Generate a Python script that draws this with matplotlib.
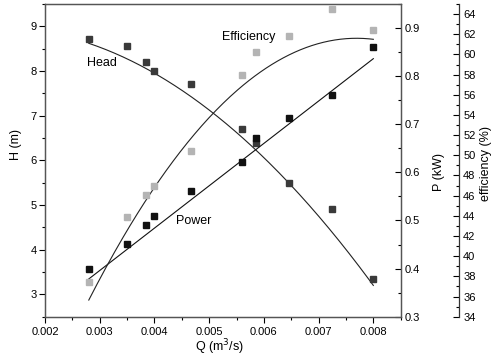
import numpy as np
import matplotlib
matplotlib.use("Agg")
import matplotlib.pyplot as plt
from matplotlib.ticker import MultipleLocator

plt.rcParams['font.family'] = ['Liberation Sans', 'DejaVu Sans']
plt.rcParams['font.size'] = 8

# flow rate (m3/s)
q = [0.0028, 0.0035, 0.00385, 0.0040, 0.00467, 0.0056, 0.00585, 0.00645, 0.00725, 0.0080]
# head (m)
head = [8.71, 8.55, 8.21, 8.01, 7.71, 6.71, 6.38, 5.50, 4.90, 3.34]
# power (kW)
power = [0.400, 0.451, 0.491, 0.510, 0.561, 0.621, 0.671, 0.712, 0.761, 0.861]
# efficiency (%)
eff = [37.4, 43.9, 46.1, 47.0, 50.4, 58.0, 60.2, 61.8, 64.5, 62.4]

# trend curves: points
curve_q = [0.0028, 0.00508, 0.0080]
head_curve = [8.62, 7.05, 3.20]
power_curve = [0.378, 0.580, 0.836]
eff_curve = [35.65, 54.2, 61.5]

qq = np.linspace(curve_q[0], curve_q[-1], 200)
head_fit = np.polyval(np.polyfit(curve_q, head_curve, 2), qq)
power_fit = np.polyval(np.polyfit(curve_q, power_curve, 1), qq)
eff_fit = np.polyval(np.polyfit(curve_q, eff_curve, 2), qq)

fig = plt.figure(figsize=(4.92, 3.57), dpi=100)
ax = fig.add_axes([0.0915, 0.1129, 0.7229, 0.8759])
ax2 = ax.twinx()
ax3 = ax.twinx()

ax.plot(q, head, 's', color='#3a3a3a', ms=5, zorder=3)
ax.plot(qq, head_fit, color='#222222', lw=0.8)
ax2.plot(q, power, 's', color='#111111', ms=5, zorder=3)
ax2.plot(qq, power_fit, color='#111111', lw=0.8)
ax3.plot(q, eff, 's', color='#b4b4b4', ms=5, zorder=3)
ax3.plot(qq, eff_fit, color='#222222', lw=0.8)

ax.set_xlim(0.002, 0.0085)
ax.set_ylim(2.5, 9.5)
ax2.set_ylim(0.3, 0.95)
ax3.set_ylim(34, 65)

ax.xaxis.set_major_locator(MultipleLocator(0.001))
ax.xaxis.set_minor_locator(MultipleLocator(0.0005))
ax.yaxis.set_major_locator(MultipleLocator(1))
ax.yaxis.set_minor_locator(MultipleLocator(0.5))
ax2.yaxis.set_major_locator(MultipleLocator(0.1))
ax2.yaxis.set_minor_locator(MultipleLocator(0.05))
ax3.yaxis.set_major_locator(MultipleLocator(2))
ax3.yaxis.set_minor_locator(MultipleLocator(1))

ax.xaxis.set_major_formatter(plt.FuncFormatter(lambda v, p: f"{v:.3f}"))
ax2.yaxis.set_major_formatter(plt.FuncFormatter(lambda v, p: f"{v:.1f}"))

ax.tick_params(axis='both', which='major', direction='out', length=4, width=0.8, top=False)
ax.tick_params(axis='both', which='minor', direction='out', length=2, width=0.8, top=False)
ax.tick_params(axis='y', right=False, pad=2)
ax2.tick_params(which='major', direction='in', length=4, width=0.8, pad=3)
ax2.tick_params(which='minor', direction='in', length=2, width=0.8)
ax3.tick_params(which='major', direction='in', length=4, width=0.8, pad=3)
ax3.tick_params(which='minor', direction='in', length=2, width=0.8)

for a in (ax, ax2):
    for s in a.spines.values():
        s.set_color('#555555')
        s.set_linewidth(0.9)

ax3.spines['right'].set_position(('axes', 1.164))
ax3.spines['right'].set_color('#333333')
ax3.spines['right'].set_linewidth(0.9)
for s in ('top', 'left', 'bottom'):
    ax3.spines[s].set_visible(False)

ax.set_xlabel("Q (m$^3$/s)", fontsize=9)
ax.set_ylabel("H (m)", fontsize=9)
ax2.set_ylabel("P (kW)", fontsize=9)
ax3.set_ylabel("efficiency (%)", fontsize=9)
ax.xaxis.set_label_coords(0.49, -0.066)
ax.yaxis.set_label_coords(-0.065, 0.552)
ax2.yaxis.set_label_coords(1.09, 0.463)
ax3.yaxis.set_label_coords(1.224, 0.49)

ax.text(0.00277, 8.19, "Head", fontsize=9, va='center', ha='left')
ax.text(0.005227, 8.77, "Efficiency", fontsize=9, va='center', ha='left')
ax.text(0.0044, 4.645, "Power", fontsize=9, va='center', ha='left')

fig.savefig("out.png", dpi=100)
